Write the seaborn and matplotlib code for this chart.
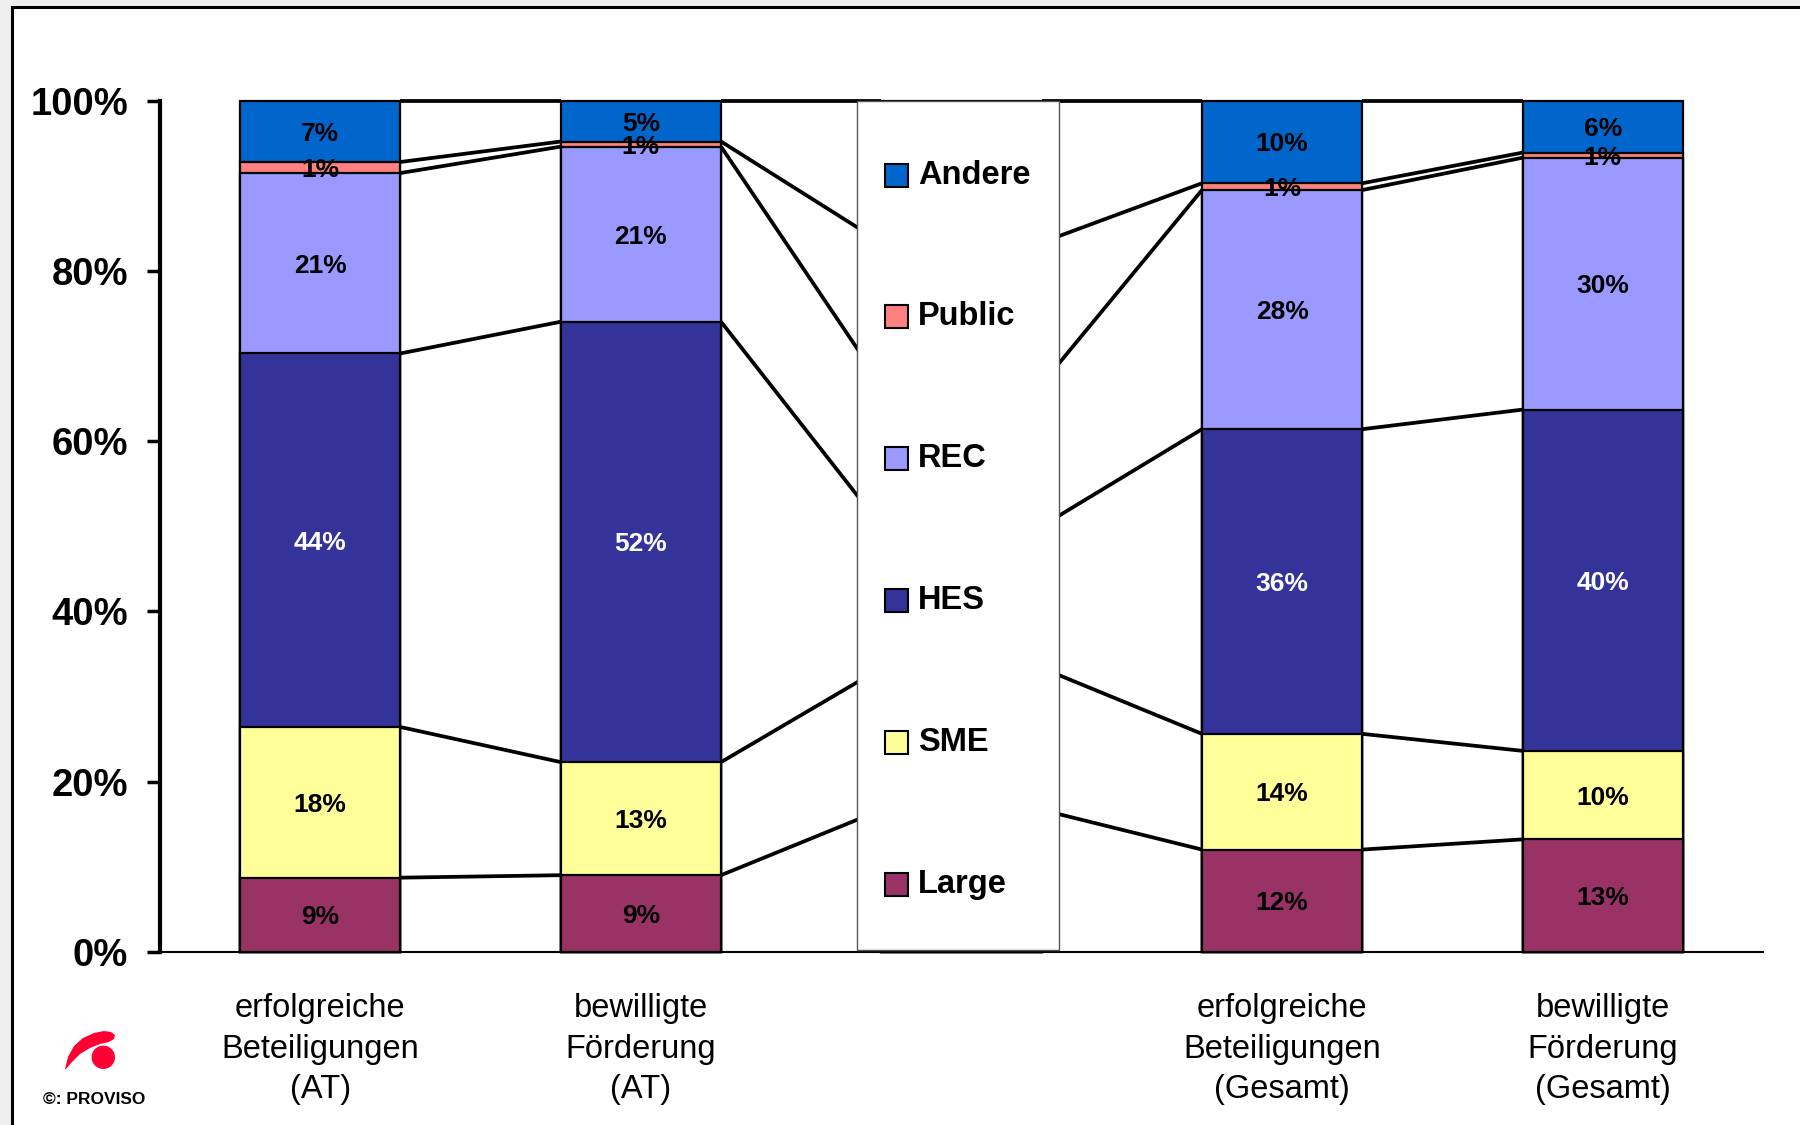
import numpy as np
import pandas as pd
import matplotlib
matplotlib.use("Agg")
import matplotlib.pyplot as plt
import seaborn as sns
from matplotlib.patches import Rectangle, Circle, Polygon
from matplotlib.transforms import IdentityTransform, offset_copy

# ---- data (shares in %, bottom-to-top stacking order) ----
categories = [
    "erfolgreiche\nBeteiligungen\n(AT)",
    "bewilligte\nFörderung\n(AT)",
    "",
    "erfolgreiche\nBeteiligungen\n(Gesamt)",
    "bewilligte\nFörderung\n(Gesamt)",
]
series_names = ["Large", "SME", "HES", "REC", "Public", "Andere"]
large = [8.7, 9.0, 1, 12.0, 13.2]
sme = [17.7, 13.3, 1, 13.6, 10.4]
hes = [43.9, 51.8, 1, 35.8, 40.1]
rec = [21.2, 20.6, 1, 28.1, 29.6]
public = [1.3, 0.6, 1, 0.8, 0.6]
andere = [7.2, 4.8, 1, 9.7, 6.1]
series_colors = ["#993366", "#FFFF99", "#333399", "#9999FF", "#FF8080", "#0066CC"]
label_colors = ["black", "black", "white", "black", "black", "black"]
hidden_category = 2  # sits behind the legend box

values = np.array([large, sme, hes, rec, public, andere], dtype=float)
pct = values / values.sum(axis=0) * 100.0
cum_top = np.cumsum(pct, axis=0)
cum_bottom = cum_top - pct

keys = [f"c{i}" for i in range(len(categories))]

sns.set_theme(style="white")
plt.rcParams["font.family"] = ["Liberation Sans", "DejaVu Sans"]

W, H = 1800, 1125
fig = plt.figure(figsize=(18, 11.25), dpi=100, facecolor="#efefef")

# white sheet with a black frame on its top and left edges
fig.add_artist(Rectangle((11.7, -20), 2000, H - 6.7 + 20, transform=IdentityTransform(),
                         facecolor="white", edgecolor="black", linewidth=2.2, zorder=-5))

ax = fig.add_axes([160 / W, (H - 951.7) / H, (1763 - 160) / W, (951.7 - 100.7) / H])
ax.set_facecolor("none")

# stacked bars: draw cumulative totals from the top series down
for k in range(len(series_names) - 1, -1, -1):
    df = pd.DataFrame({"cat": keys, "total": cum_top[k]})
    sns.barplot(data=df, x="cat", y="total", order=keys, color=series_colors[k],
                saturation=1, width=0.5, edgecolor="black", linewidth=1.6, ax=ax)
for p in ax.patches:
    p.set_clip_on(False)

# series lines joining the segment tops of neighbouring bars
for k in range(len(series_names)):
    for i in range(len(keys) - 1):
        ax.plot([i + 0.25, i + 0.75], [cum_top[k, i], cum_top[k, i + 1]],
                color="black", linewidth=2.7, zorder=2, clip_on=False, solid_capstyle="butt")

# value labels (nudged a few pixels down to sit optically centred)
label_tf = offset_copy(ax.transData, fig=fig, x=0, y=-2.5, units="dots")
for i in range(len(keys)):
    if i == hidden_category:
        continue
    for k in range(len(series_names)):
        ax.text(i, cum_bottom[k, i] + pct[k, i] / 2, f"{pct[k, i]:.0f}%",
                ha="center", va="center", fontsize=19, fontweight="bold",
                color=label_colors[k], zorder=4, transform=label_tf)

# legend panel
ax.add_patch(Rectangle((1.674, 0.2), 0.630, 99.8, facecolor="white", edgecolor="#555555",
                       linewidth=1.0, zorder=5, clip_on=False))
n = len(series_names)
for j, k in enumerate(range(n - 1, -1, -1)):
    yc = 100 - (j + 0.5) * 100 / n - 0.4
    ax.add_patch(Rectangle((1.761, yc - 1.35), 0.072, 2.7, facecolor=series_colors[k],
                           edgecolor="black", linewidth=1.5, zorder=6))
    ax.text(1.864, yc, series_names[k], ha="left", va="center", fontsize=23.5,
            fontweight="bold", color="black", zorder=6)

# axes styling
ax.set_xlim(-0.5, len(keys) - 0.5)
ax.set_ylim(0, 100)
ax.set_yticks([0, 20, 40, 60, 80, 100])
ax.set_yticklabels([f"{t}%" for t in [0, 20, 40, 60, 80, 100]], fontsize=27.5, fontweight="bold")
ax.set_xticks(range(len(keys)))
ax.set_xticklabels(categories, fontsize=23.5, linespacing=1.39)
ax.set_xlabel("")
ax.set_ylabel("")
ax.tick_params(axis="y", direction="out", length=9.5, width=2.5, pad=13.5, colors="black", left=True)
ax.tick_params(axis="x", length=0, pad=30, colors="black")
for s in ["top", "right"]:
    ax.spines[s].set_visible(False)
ax.spines["left"].set_linewidth(3.0)
ax.spines["left"].set_color("black")
ax.spines["bottom"].set_linewidth(1.5)
ax.spines["bottom"].set_color("black")
ax.grid(False)

# PROVISO mark and credit
red = "#FF0033"
fig.add_artist(Circle((103.3, H - 1057.3), 11.7, transform=IdentityTransform(),
                      facecolor=red, edgecolor="none"))
swoosh = [(65, 56), (68, 68), (74, 79), (83, 87), (94, 92), (104, 94), (111, 93), (115, 90),
          (114, 86), (109, 83), (100, 81), (90, 77), (80, 71), (72, 63), (66, 56)]
fig.add_artist(Polygon(swoosh, closed=True, transform=IdentityTransform(),
                       facecolor=red, edgecolor="none"))
fig.text(43 / W, (H - 1100) / H, "©: PROVISO", ha="left", va="center",
         fontsize=12.5, fontweight="bold", color="black")

fig.savefig("out.png", dpi=100, facecolor=fig.get_facecolor())
